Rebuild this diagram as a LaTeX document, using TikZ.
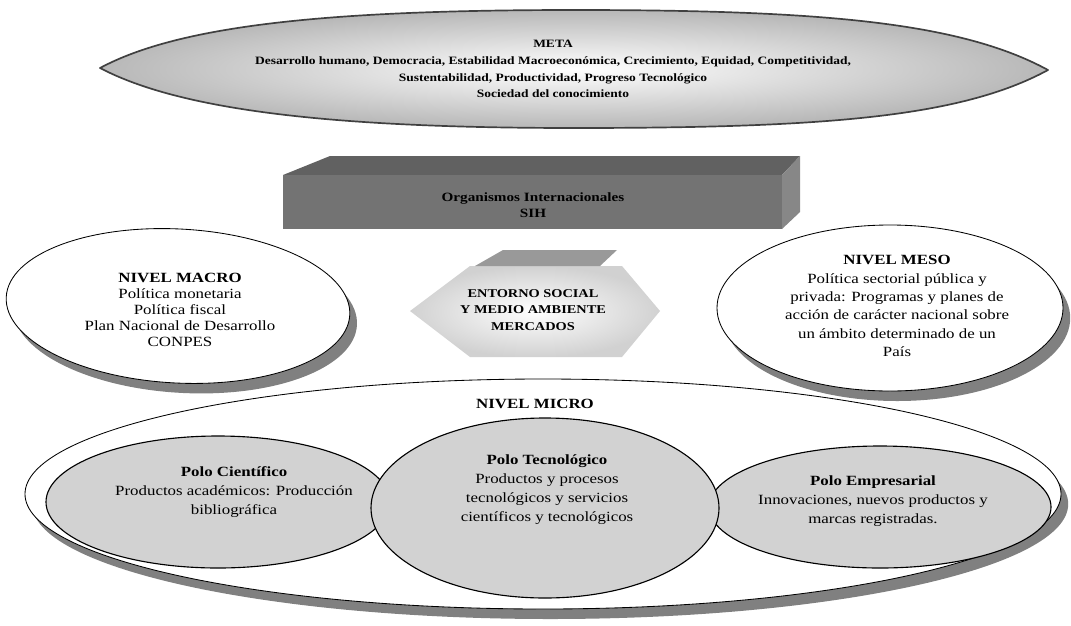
\documentclass[tikz,border=0pt]{standalone}
\usepackage{fontspec}
\setmainfont{Liberation Serif}[FakeStretch=1.2]
\usetikzlibrary{shadows}
\providecommand{\metaBorderColor}{black!75}
\providecommand{\nivelShadowColor}{black!50}
\providecommand{\poloFillColor}{gray!35}
\tikzset{
  nivel/.style={draw=black, fill=white, line width=0.6pt,
    drop shadow={shadow xshift=0.18cm, shadow yshift=-0.25cm, fill=\nivelShadowColor, opacity=1}},
  polo/.style={draw=black, fill=\poloFillColor, line width=0.8pt},
  bodytext/.style={align=center, inner sep=0pt, font=\fontsize{10}{13}\selectfont},
  metatext/.style={align=center, inner sep=0pt, font=\bfseries\fontsize{8}{12}\selectfont},
}
\begin{document}
\begin{tikzpicture}
\def\px{0.025cm}
\begin{scope}[x=\px, y=-\px, line join=round]
  \useasboundingbox (0,0) rectangle (1071,625);
  % Meta lens
  \path[shade, inner color=white, outer color=black!28, draw=\metaBorderColor, line width=1.2pt]
    (100,68) .. controls (180,25) and (330,10) .. (574,10)
    .. controls (820,10) and (960,22) .. (1048,70)
    .. controls (960,118) and (820,128) .. (574,128)
    .. controls (330,128) and (180,110) .. (100,68) -- cycle;
  \node[metatext] (meta) at (553,69) {META\\
    Desarrollo humano, Democracia, Estabilidad Macroeconómica, Crecimiento, Equidad, Competitividad,\\
    Sustentabilidad, Productividad, Progreso Tecnológico\\
    Sociedad del conocimiento};
  % Organismos box
  \fill[black!62] (283,175) -- (330,156) -- (800,156) -- (782,175) -- cycle;
  \fill[black!55] (283,175) rectangle (782,229);
  \fill[black!47] (782,175) -- (800,156) -- (800,212) -- (782,229) -- cycle;
  \node[align=center, inner sep=0pt, font=\bfseries\fontsize{9}{11}\selectfont] (org) at (533,205)
    {Organismos Internacionales\\SIH};
  % Nivel micro
  \path[nivel] (543,494) ellipse [x radius=518, y radius=115];
  \node[inner sep=0pt, font=\bfseries\fontsize{10}{12}\selectfont] (micro) at (535,404) {NIVEL MICRO};
  % Nivel macro and meso
  \path[nivel, rotate around={-3:(178,306)}] (178,306) ellipse [x radius=172, y radius=77];
  \node[bodytext, font=\fontsize{10}{11.5}\selectfont] (macro) at (180,310)
    {\textbf{NIVEL MACRO}\\Política monetaria\\Política fiscal\\Plan Nacional de Desarrollo\\CONPES};
  \path[nivel] (890,308) ellipse [x radius=173, y radius=83];
  \node[bodytext] (meso) at (897,306)
    {\textbf{NIVEL MESO}\\Política sectorial pública y\\privada: Programas y planes de\\
     acción de carácter nacional sobre\\un ámbito determinado de un\\País};
  % Entorno hexagon
  \path[shade, inner color=white, outer color=black!18]
    (410,311) -- (470,266) -- (622,266) -- (660,311) -- (622,357) -- (470,357) -- cycle;
  \fill[black!40] (475,266) -- (503,250) -- (617,250) -- (600,266) -- cycle;
  \node[align=center, inner sep=0pt, font=\bfseries\fontsize{8.5}{12}\selectfont] (entorno) at (533,310)
    {ENTORNO SOCIAL\\Y MEDIO AMBIENTE\\MERCADOS};
  % Polos
  \path[polo] (218,502) ellipse [x radius=172, y radius=66];
  \path[polo] (880,507) ellipse [x radius=171, y radius=61];
  \path[polo] (545,508) ellipse [x radius=174, y radius=90];
  \node[bodytext, font=\fontsize{10}{13.5}\selectfont] (cientifico) at (234,492)
    {\textbf{Polo Científico}\\Productos académicos: Producción\\bibliográfica};
  \node[bodytext, font=\fontsize{10}{13.5}\selectfont] (tecnologico) at (547,490)
    {\textbf{Polo Tecnológico}\\Productos y procesos\\tecnológicos y servicios\\científicos y tecnológicos};
  \node[bodytext, font=\fontsize{10}{13.5}\selectfont] (empresarial) at (873,501)
    {\textbf{Polo Empresarial}\\Innovaciones, nuevos productos y\\marcas registradas.};
\end{scope}
\end{tikzpicture}
\end{document}
